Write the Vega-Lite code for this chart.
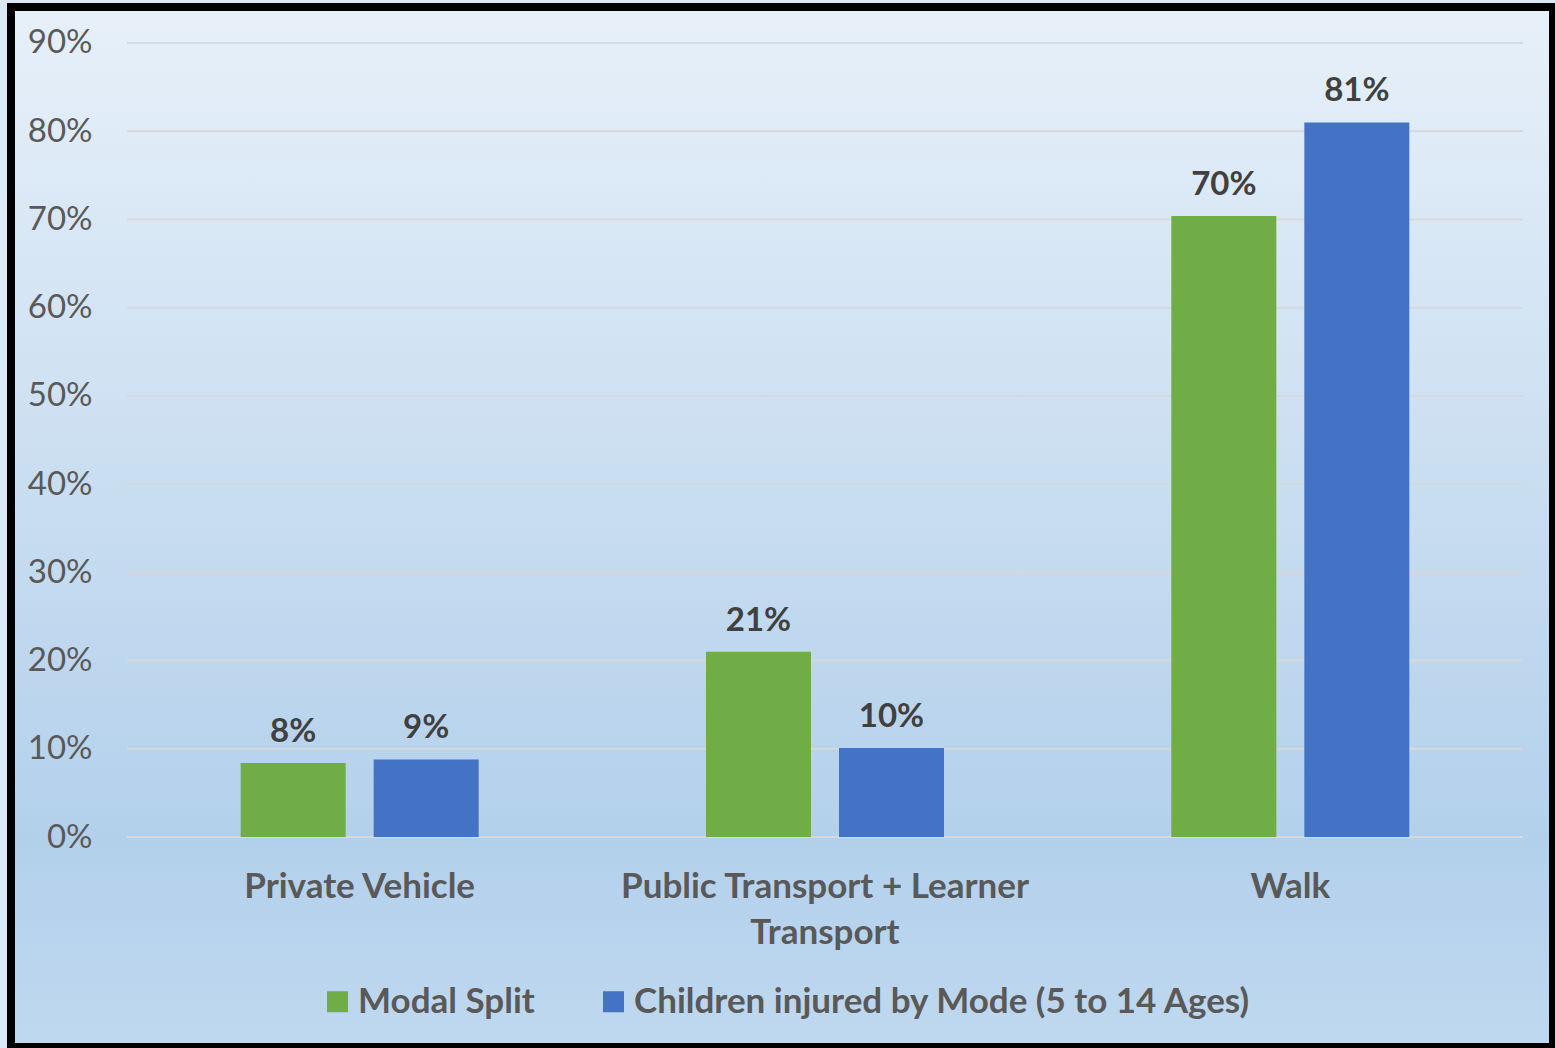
{
  "$schema": "https://vega.github.io/schema/vega-lite/v6.json",
  "width": 1542,
  "height": 1040,
  "autosize": {"type": "none"},
  "padding": {"left": 11, "top": 7, "right": 2, "bottom": 1},
  "background": "#dbe8f5",
  "config": {
    "view": {
      "stroke": "#000000",
      "strokeWidth": 8,
      "fill": {
        "gradient": "linear",
        "x1": 0, "y1": 0, "x2": 0, "y2": 1,
        "stops": [
          {"offset": 0, "color": "#e7f0f9"},
          {"offset": 0.8, "color": "#b3d0eb"},
          {"offset": 1, "color": "#bfd8ef"}
        ]
      }
    },
    "font": "Lato",
    "axisY": {
      "title": null, "grid": false, "domain": false, "ticks": false,
      "offset": -116, "labelPadding": 35,
      "labelFont": "Lato", "labelFontSize": 33, "labelColor": "#595959"
    },
    "axisX": {
      "title": null, "offset": -210,
      "domain": false, "ticks": false, "labelAngle": 0, "grid": false,
      "labelFont": "Lato", "labelFontSize": 35, "labelFontWeight": "bold",
      "labelColor": "#595959", "labelPadding": 32, "labelLimit": 0,
      "labelLineHeight": 46, "labelBaseline": "top"
    }
  },
  "datasets": {
    "bars": [
      {"mode": "Private Vehicle", "series": "Modal Split", "value": 0.084},
      {"mode": "Private Vehicle", "series": "Children injured by Mode (5 to 14 Ages)", "value": 0.088},
      {"mode": "Public Transport + Learner Transport", "series": "Modal Split", "value": 0.21},
      {"mode": "Public Transport + Learner Transport", "series": "Children injured by Mode (5 to 14 Ages)", "value": 0.101},
      {"mode": "Walk", "series": "Modal Split", "value": 0.704},
      {"mode": "Walk", "series": "Children injured by Mode (5 to 14 Ages)", "value": 0.81}
    ],
    "grid": [
      {"g": 0}, {"g": 0.1}, {"g": 0.2}, {"g": 0.3}, {"g": 0.4},
      {"g": 0.5}, {"g": 0.6}, {"g": 0.7}, {"g": 0.8}, {"g": 0.9}
    ]
  },
  "layer": [
    {
      "data": {"name": "grid"},
      "mark": {"type": "rule", "color": "#d6d8db", "strokeWidth": 2},
      "encoding": {
        "y": {
          "field": "g", "type": "quantitative", "title": null,
          "scale": {"domain": [-0.238, 0.9408], "nice": false, "zero": false},
          "axis": {"values": [0, 0.1, 0.2, 0.3, 0.4, 0.5, 0.6, 0.7, 0.8, 0.9], "format": ".0%"}
        },
        "x": {
          "datum": "Private Vehicle", "type": "nominal", "bandPosition": 0, "title": null,
          "axis": {"labelExpr": "datum.value == 'Public Transport + Learner Transport' ? ['Public Transport + Learner', 'Transport'] : datum.value"}
        },
        "x2": {"datum": "Walk", "bandPosition": 1}
      }
    },
    {
      "data": {"name": "bars"},
      "mark": {"type": "bar"},
      "encoding": {
        "x": {
          "field": "mode", "type": "nominal", "title": null,
          "scale": {
            "domain": ["Private Vehicle", "Public Transport + Learner Transport", "Walk"],
            "paddingInner": 0, "paddingOuter": 0.15688, "align": 0.7945
          },
          "axis": {"labelExpr": "datum.value == 'Public Transport + Learner Transport' ? ['Public Transport + Learner', 'Transport'] : datum.value"}
        },
        "xOffset": {
          "field": "series", "type": "nominal",
          "scale": {
            "domain": ["Modal Split", "Children injured by Mode (5 to 14 Ages)"],
            "paddingInner": 0.2105, "paddingOuter": 0.8546
          }
        },
        "y": {
          "field": "value", "type": "quantitative", "title": null,
          "scale": {"domain": [-0.238, 0.9408], "nice": false, "zero": false},
          "axis": {"values": [0, 0.1, 0.2, 0.3, 0.4, 0.5, 0.6, 0.7, 0.8, 0.9], "format": ".0%"}
        },
        "y2": {"datum": 0},
        "color": {
          "field": "series", "type": "nominal",
          "scale": {
            "domain": ["Modal Split", "Children injured by Mode (5 to 14 Ages)"],
            "range": ["#70ad47", "#4472c4"]
          },
          "legend": {
            "title": null, "orient": "none", "direction": "horizontal",
            "legendX": 309, "legendY": 977, "padding": 0,
            "symbolType": "square", "symbolSize": 441, "symbolStrokeWidth": 0,
            "symbolOpacity": 1,
            "labelFont": "Lato", "labelFontSize": 35, "labelFontWeight": "bold",
            "labelColor": "#595959", "labelOffset": 3, "columnPadding": 61,
            "labelLimit": 0
          }
        }
      }
    },
    {
      "data": {"name": "bars"},
      "mark": {
        "type": "text", "baseline": "alphabetic", "dy": -21,
        "font": "Lato", "fontSize": 33, "fontWeight": "bold", "color": "#404040"
      },
      "encoding": {
        "x": {"field": "mode", "type": "nominal"},
        "xOffset": {"field": "series", "type": "nominal"},
        "y": {"field": "value", "type": "quantitative"},
        "text": {"field": "value", "type": "quantitative", "format": ".0%"}
      }
    }
  ]
}
